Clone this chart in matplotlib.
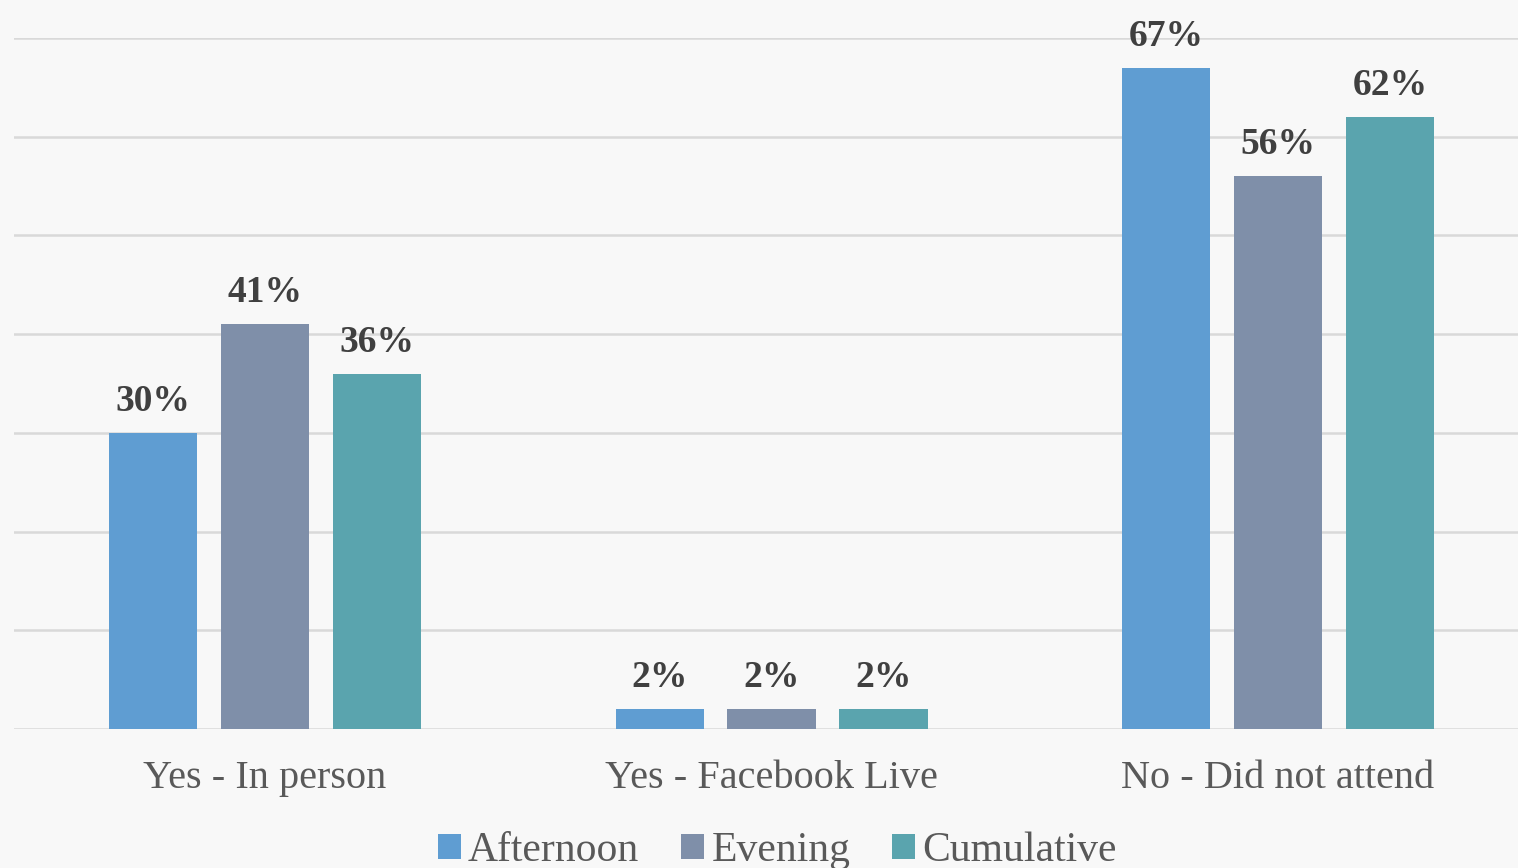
import matplotlib.pyplot as plt
import numpy as np

categories = ["Yes - In person", "Yes - Facebook Live", "No - Did not attend"]
series_names = ["Afternoon", "Evening", "Cumulative"]
afternoon = [30, 2, 67]
evening = [41, 2, 56]
cumulative = [36, 2, 62]
colors = ["#5f9dd2", "#7f8fa9", "#5aa4ae"]

W, H = 1518, 868
fig = plt.figure(figsize=(W / 100, H / 100), dpi=100)
fig.patch.set_facecolor("#f8f8f8")

ax = fig.add_axes([14 / W, 1 - 729 / H, 1 - 14 / W, (729 - 38) / H])
ax.set_facecolor("none")

serif = ["Liberation Serif", "DejaVu Serif"]
x = np.arange(len(categories))
width = 0.174
step = 0.221

for k, (name, vals, col) in enumerate(zip(series_names, [afternoon, evening, cumulative], colors)):
    pos = x + (k - 1) * step
    ax.bar(pos, vals, width, color=col, label=name, zorder=3)
    for px, v in zip(pos, vals):
        ax.text(px, v + 1.4, f"{v}%", ha="center", va="bottom",
                fontsize=27, fontweight="bold", color="#404040",
                family=serif, clip_on=False, zorder=4)

ax.set_xlim(-0.4956, -0.4956 + (W - 14) / 506.5)
ax.set_ylim(0, 70)
ax.set_yticks(np.arange(0, 71, 10))
ax.yaxis.grid(True, color="#d9d9d9", linewidth=1.8, zorder=0)
ax.tick_params(axis="y", left=False, labelleft=False)
ax.tick_params(axis="x", bottom=False, pad=19)
ax.set_xticks(x)
ax.set_xticklabels(categories, fontsize=29, color="#595959", family=serif)
for s in ax.spines.values():
    s.set_visible(False)

fig.legend(loc="center", bbox_to_anchor=(0.512, 1 - 851 / H), ncol=3,
           frameon=False, handlelength=0.55, handleheight=0.55,
           handletextpad=0.18, columnspacing=1.0,
           prop={"family": serif, "size": 30}, labelcolor="#595959")

fig.savefig("out.png", dpi=100, facecolor=fig.get_facecolor())
